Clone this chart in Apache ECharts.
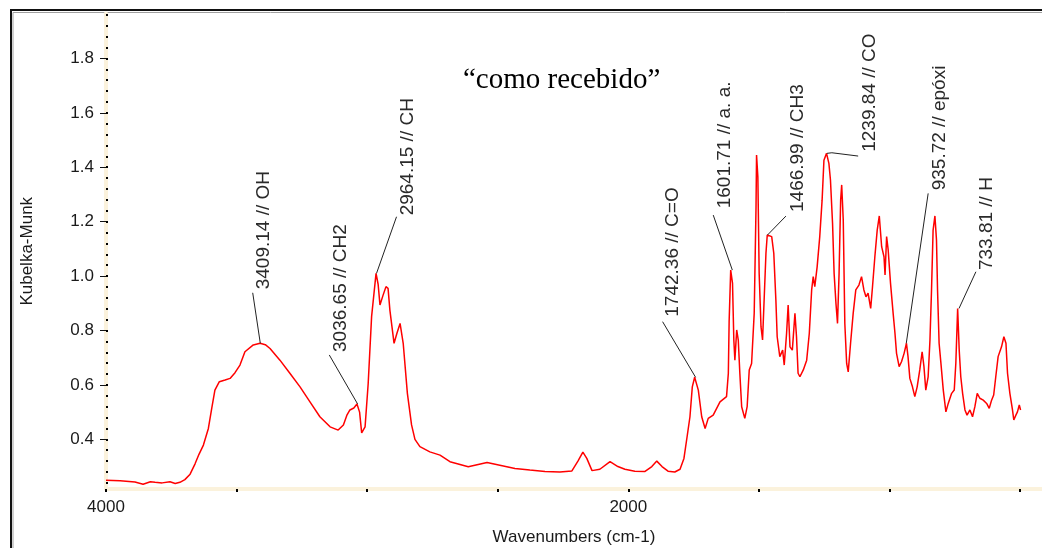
<!DOCTYPE html>
<html>
<head>
<meta charset="utf-8">
<script src="https://cdn.jsdelivr.net/npm/echarts@6/dist/echarts.min.js"></script>
<style>
html,body{margin:0;padding:0;background:#fff;}
#chart{width:1042px;height:548px;}
</style>
</head>
<body>
<div id="chart"></div>
<script>
// Spectrum (wavenumber cm-1, Kubelka-Munk)
const wavenumbers = [4000,3946,3889,3858,3830,3812,3785,3755,3735,3717,3698,3678,3659,3644,3627,3608,3595,3583,3566,3544,3525,3506,3487,3468,3436,3410,3390,3372,3334,3296,3257,3219,3181,3142,3111,3091,3077,3066,3051,3039,3029,3021,3008,2996,2983,2966,2958,2951,2939,2928,2920,2913,2897,2886,2874,2862,2846,2830,2817,2798,2760,2721,2683,2613,2541,2492,2434,2377,2319,2262,2216,2193,2174,2159,2139,2109,2070,2040,2013,1975,1936,1910,1891,1871,1848,1822,1802,1787,1774,1764,1755,1746,1732,1719,1706,1694,1675,1649,1624,1617,1614,1608,1601,1596,1592,1585,1579,1573,1566,1554,1545,1537,1528,1518,1511,1509,1504,1499,1492,1486,1480,1473,1468,1451,1443,1435,1430,1420,1409,1403,1394,1388,1381,1372,1362,1356,1350,1343,1330,1317,1307,1298,1292,1286,1277,1267,1258,1251,1241,1232,1226,1218,1212,1205,1199,1193,1187,1183,1177,1171,1164,1158,1149,1139,1129,1117,1107,1098,1090,1082,1072,1065,1056,1047,1039,1030,1021,1017,1011,1005,996,986,979,973,963,954,944,935,929,922,912,903,894,884,875,868,861,852,845,839,833,826,820,816,810,803,794,784,775,762,752,746,739,733,727,720,711,703,692,682,673,664,654,641,628,618,609,601,593,584,571,562,554,548,539,529,524,516,510,503,498];
const kmValues = [0.250,0.248,0.243,0.235,0.244,0.242,0.240,0.244,0.238,0.242,0.252,0.272,0.310,0.345,0.379,0.440,0.515,0.581,0.612,0.618,0.624,0.645,0.673,0.722,0.747,0.753,0.748,0.734,0.691,0.643,0.593,0.538,0.483,0.446,0.434,0.453,0.490,0.508,0.515,0.530,0.500,0.424,0.446,0.606,0.851,1.010,0.970,0.894,0.930,0.961,0.955,0.875,0.753,0.790,0.826,0.753,0.569,0.453,0.400,0.373,0.354,0.342,0.318,0.299,0.315,0.305,0.293,0.287,0.282,0.280,0.284,0.320,0.353,0.330,0.285,0.290,0.318,0.300,0.290,0.283,0.282,0.300,0.320,0.300,0.283,0.280,0.290,0.330,0.416,0.483,0.593,0.628,0.581,0.483,0.440,0.477,0.489,0.538,0.557,0.643,0.832,1.022,0.973,0.765,0.691,0.802,0.765,0.643,0.520,0.477,0.520,0.655,0.679,0.863,1.255,1.445,1.365,1.010,0.814,0.765,0.912,1.084,1.151,1.145,1.084,0.912,0.777,0.704,0.728,0.673,0.790,0.894,0.740,0.728,0.863,0.777,0.643,0.630,0.655,0.691,0.790,0.949,0.998,0.961,1.034,1.145,1.279,1.426,1.451,1.414,1.353,1.194,1.010,0.900,0.826,1.010,1.279,1.335,1.206,0.826,0.679,0.648,0.753,0.863,0.949,0.967,0.998,0.949,0.924,0.937,0.881,0.961,1.071,1.169,1.221,1.108,1.071,1.004,1.145,1.096,0.973,0.863,0.790,0.716,0.667,0.685,0.716,0.753,0.704,0.624,0.593,0.557,0.593,0.655,0.722,0.667,0.581,0.630,0.765,0.949,1.169,1.221,1.132,0.949,0.753,0.679,0.581,0.501,0.532,0.569,0.581,0.679,0.881,0.728,0.630,0.569,0.508,0.489,0.508,0.483,0.520,0.569,0.551,0.544,0.532,0.514,0.544,0.563,0.630,0.704,0.740,0.777,0.753,0.643,0.569,0.508,0.471,0.489,0.501,0.526,0.508];

// Peak annotations
const peakWavenumbers = [3409.14, 3036.65, 2964.15, 1742.36, 1601.71, 1466.99, 1239.84, 935.72, 733.81];
const peakValues = [0.753, 0.530, 1.010, 0.628, 1.022, 1.151, 1.451, 0.753, 0.881];
const peakNames = ['OH', 'CH2', 'CH', 'C=O', 'a. a.', 'CH3', 'CO', 'epóxi', 'H'];

// Tick labels and tick positions
const xLabelValues = [4000, 2000];
const xTickValues = [4000, 3500, 3000, 2500, 2000, 1500, 1000, 500];
const yTickValues = [0.4, 0.6, 0.8, 1.0, 1.2, 1.4, 1.6, 1.8];
const yMinorTickValues = [0.24, 0.28, 0.32, 0.36, 0.40, 0.44, 0.48, 0.52, 0.56, 0.60, 0.64, 0.68, 0.72, 0.76, 0.80, 0.84, 0.88, 0.92, 0.96, 1.00, 1.04, 1.08, 1.12, 1.16, 1.20, 1.24, 1.28, 1.32, 1.36, 1.40, 1.44, 1.48, 1.52, 1.56, 1.60, 1.64, 1.68, 1.72, 1.76, 1.80, 1.84, 1.88, 1.92, 1.96];

const X_MIN = 416, X_MAX = 4000, Y_MIN = 0.2175, Y_MAX = 1.965;

// label/leader offsets in pixels relative to the peak point (layout only)
const annotLayout = [
  {line: [[-7.6, -50.5]], text: [3, -54]},
  {line: [[-28.3, -49]], text: [-16.6, -52]},
  {line: [[20, -56.6]], text: [31.7, -58]},
  {line: [[-33, -55.6]], text: [-22.7, -60.6]},
  {line: [[-19.1, -55]], text: [-7.4, -61.8]},
  {line: [[18.4, -18.9]], text: [30.7, -23]},
  {line: [[5, -0.6], [31.3, 2.7]], text: [43, -1.6]},
  {line: [[21.9, -149.9]], text: [33.6, -153]},
  {line: [[16.9, -36.7]], text: [27.6, -38.4]}
];

const spectrum = wavenumbers.map((w, i) => [w, kmValues[i]]);
const peaks = peakWavenumbers.map((w, i) => [w, peakValues[i], w.toFixed(2) + ' // ' + peakNames[i]]);

const chart = echarts.init(document.getElementById('chart'), null, {renderer: 'canvas'});
const FONT = '"Liberation Sans", Arial, sans-serif';

chart.setOption({
  animation: false,
  backgroundColor: '#ffffff',
  title: {
    text: '\u201Ccomo recebido\u201D',
    left: 463, top: 66, padding: 0,
    textStyle: {fontFamily: '"Liberation Serif", "Times New Roman", serif', fontSize: 29, fontWeight: 'normal', color: '#000'}
  },
  graphic: [
    {type: 'rect', shape: {x: 11, y: 10, width: 1100, height: 600}, style: {fill: null, stroke: '#111', lineWidth: 2}, silent: true},
    {type: 'rect', shape: {x: 13, y: 12.5, width: 1100, height: 600}, style: {fill: null, stroke: '#a0a0a0', lineWidth: 1}, silent: true}
  ],
  grid: {left: 106, right: 0, top: 13.5, bottom: 59, outerBoundsMode: 'none', containLabel: false},
  xAxis: {
    type: 'value', min: X_MIN, max: X_MAX, inverse: true,
    name: 'Wavenumbers (cm-1)', nameLocation: 'middle', nameGap: 40,
    nameTextStyle: {fontFamily: FONT, fontSize: 17, color: '#1a1a1a'},
    axisLine: {show: true, onZero: false, lineStyle: {color: '#fbf2dc', width: 4}},
    axisTick: {show: true, customValues: xTickValues, length: 3, inside: false, lineStyle: {color: '#000', width: 2}},
    axisLabel: {customValues: xLabelValues, margin: 10, fontFamily: FONT, fontSize: 17, color: '#1a1a1a',
      formatter: v => String(v)},
    splitLine: {show: false}
  },
  yAxis: [{
    type: 'value', min: Y_MIN, max: Y_MAX,
    name: 'Kubelka-Munk', nameLocation: 'middle', nameGap: 70,
    nameTextStyle: {fontFamily: FONT, fontSize: 17, color: '#1a1a1a'},
    axisLine: {show: true, lineStyle: {color: '#fbf2dc', width: 4}},
    axisTick: {show: true, customValues: yTickValues, length: 6, lineStyle: {color: '#111', width: 1}},
    axisLabel: {customValues: yTickValues, margin: 12, fontFamily: FONT, fontSize: 17, color: '#1a1a1a',
      formatter: v => v.toFixed(1)},
    splitLine: {show: false}
  }, {
    type: 'value', min: Y_MIN, max: Y_MAX, position: 'left',
    axisLine: {show: false},
    axisTick: {show: true, customValues: yMinorTickValues, inside: true, length: 2, lineStyle: {color: '#000', width: 2}},
    axisLabel: {show: false}, splitLine: {show: false}
  }],
  series: [{
    type: 'line', data: spectrum, yAxisIndex: 0,
    showSymbol: false, symbol: 'none',
    lineStyle: {color: '#ff0000', width: 1.5},
    z: 3
  }, {
    type: 'custom', data: peaks, yAxisIndex: 0, z: 4,
    encode: {x: 0, y: 1},
    renderItem: function (params, api) {
      const i = params.dataIndex;
      const p = api.coord([api.value(0), api.value(1)]);
      const L = annotLayout[i];
      const pts = [p].concat(L.line.map(o => [p[0] + o[0], p[1] + o[1]]));
      return {
        type: 'group',
        children: [
          {type: 'polyline', shape: {points: pts}, style: {stroke: '#222', lineWidth: 1, fill: null}},
          {type: 'text', x: p[0] + L.text[0], y: p[1] + L.text[1], rotation: Math.PI / 2,
            style: {text: peaks[i][2], fill: '#2a2a2a', fontSize: 19, fontFamily: FONT, align: 'left', verticalAlign: 'middle'}}
        ]
      };
    }
  }]
});
</script>
</body>
</html>
